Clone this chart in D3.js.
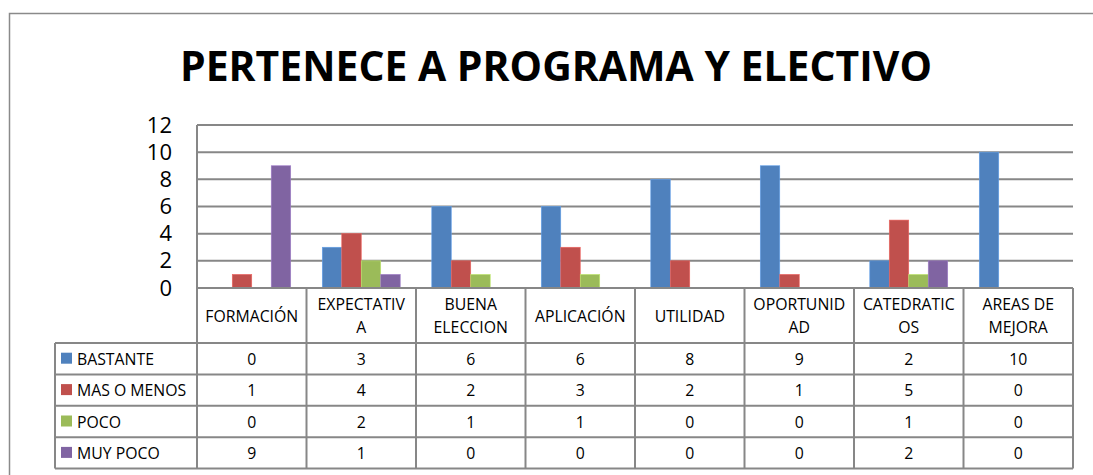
<!DOCTYPE html>
<html>
<head>
<meta charset="utf-8">
<script src="https://cdn.jsdelivr.net/npm/d3@7"></script>
<style>
  body { margin: 0; background: #fff; }
  text { font-family: "Open Sans", "Noto Sans", sans-serif; }
</style>
</head>
<body>
<div id="chart"></div>
<script>
var categories = ["FORMACIÓN", "EXPECTATIVA", "BUENA ELECCION", "APLICACIÓN", "UTILIDAD", "OPORTUNIDAD", "CATEDRATICOS", "AREAS DE MEJORA"];
// lines shown in the category header of the data table
var categoryLines = [["FORMACIÓN"], ["EXPECTATIV", "A"], ["BUENA", "ELECCION"], ["APLICACIÓN"], ["UTILIDAD"], ["OPORTUNID", "AD"], ["CATEDRATIC", "OS"], ["AREAS DE", "MEJORA"]];
var seriesNames = ["BASTANTE", "MAS O MENOS", "POCO", "MUY POCO"];
var bastante = [0, 3, 6, 6, 8, 9, 2, 10];
var masOMenos = [1, 4, 2, 3, 2, 1, 5, 0];
var poco = [0, 2, 1, 1, 0, 0, 1, 0];
var muyPoco = [9, 1, 0, 0, 0, 0, 2, 0];
var yTicks = [0, 2, 4, 6, 8, 10, 12];
var colors = ["#4F81BD", "#C0504D", "#9BBB59", "#8064A2"];

var values = [bastante, masOMenos, poco, muyPoco];

var W = 1093, H = 475;
var plot = {left: 197, right: 1073, top: 125, bottom: 288};
var gridColor = "#878787";
var tableFont = "15.8px";

var svg = d3.select("#chart").append("svg")
    .attr("width", W)
    .attr("height", H);

// outer chart border
svg.append("rect")
    .attr("x", 9.5).attr("y", 13.5)
    .attr("width", 1100).attr("height", 500)
    .attr("fill", "none")
    .attr("stroke", "#8a8a8a")
    .attr("stroke-width", 1.5);

// titulo
svg.append("text")
    .attr("x", 556)
    .attr("y", 81)
    .attr("text-anchor", "middle")
    .attr("font-size", "41px")
    .attr("font-weight", "bold")
    .attr("textLength", 752)
    .attr("lengthAdjust", "spacingAndGlyphs")
    .text("PERTENECE A PROGRAMA Y ELECTIVO");

var x0 = d3.scaleBand()
    .domain(categories)
    .range([plot.left, plot.right]);

var x1 = d3.scaleBand()
    .domain(seriesNames)
    .range([0, x0.bandwidth()])
    .paddingOuter(0.81)
    .paddingInner(0);

var y = d3.scaleLinear()
    .domain([0, 12])
    .range([plot.bottom, plot.top]);

// grid lines
svg.append("g")
  .selectAll("line")
  .data(yTicks)
  .enter()
  .append("line")
    .attr("x1", plot.left)
    .attr("x2", plot.right)
    .attr("y1", function(d) { return y(d); })
    .attr("y2", function(d) { return y(d); })
    .attr("stroke", gridColor)
    .attr("stroke-width", 2);

svg.append("line")
    .attr("x1", plot.left).attr("x2", plot.left)
    .attr("y1", plot.top).attr("y2", plot.bottom)
    .attr("stroke", gridColor).attr("stroke-width", 2);

// y axis labels
var yAxis = d3.axisLeft(y).tickValues(yTicks).tickSize(0).tickPadding(25);
var gy = svg.append("g")
    .attr("transform", "translate(" + plot.left + ",0)")
    .call(yAxis);
gy.select(".domain").remove();
gy.selectAll("text")
    .attr("font-size", "22px")
    .attr("fill", "#000")
    .attr("font-family", "'Open Sans', sans-serif");

// bars
var groups = svg.append("g")
  .selectAll("g")
  .data(categories)
  .enter()
  .append("g")
    .attr("transform", function(d) { return "translate(" + x0(d) + ",0)"; });

groups.selectAll("rect")
  .data(function(d, i) {
      return seriesNames.map(function(s, k) { return {s: s, k: k, v: values[k][i]}; });
  })
  .enter()
  .append("rect")
    .attr("x", function(d) { return x1(d.s); })
    .attr("y", function(d) { return y(d.v); })
    .attr("width", x1.bandwidth())
    .attr("height", function(d) { return y(0) - y(d.v); })
    .attr("fill", function(d) { return colors[d.k]; })
    .attr("stroke", function(d) { return d3.color(colors[d.k]).brighter(0.6); })
    .attr("stroke-width", 0.6);

// redraw the zero line on top
svg.append("line")
    .attr("x1", plot.left).attr("x2", plot.right)
    .attr("y1", y(0)).attr("y2", y(0))
    .attr("stroke", gridColor).attr("stroke-width", 2);

// tabla de datos
var table = {labelLeft: 55, headerBottom: 343, rowH: 31.4};
var tg = svg.append("g");

// header row (category names)
tg.selectAll("line.hv")
  .data(d3.range(categories.length + 1))
  .enter()
  .append("line")
    .attr("x1", function(i) { return plot.left + i * x0.step(); })
    .attr("x2", function(i) { return plot.left + i * x0.step(); })
    .attr("y1", plot.bottom)
    .attr("y2", table.headerBottom + table.rowH * seriesNames.length)
    .attr("stroke", gridColor).attr("stroke-width", 2);

tg.selectAll("line.hh")
  .data(d3.range(seriesNames.length + 1))
  .enter()
  .append("line")
    .attr("x1", table.labelLeft)
    .attr("x2", plot.right)
    .attr("y1", function(i) { return table.headerBottom + i * table.rowH; })
    .attr("y2", function(i) { return table.headerBottom + i * table.rowH; })
    .attr("stroke", gridColor).attr("stroke-width", 2);

tg.append("line")
    .attr("x1", table.labelLeft).attr("x2", table.labelLeft)
    .attr("y1", table.headerBottom)
    .attr("y2", table.headerBottom + table.rowH * seriesNames.length)
    .attr("stroke", gridColor).attr("stroke-width", 2);

// category labels
categoryLines.forEach(function(lines, i) {
  var cx = x0(categories[i]) + x0.bandwidth() / 2;
  var midY = (plot.bottom + table.headerBottom) / 2;
  var lh = 22.5;
  lines.forEach(function(l, j) {
    tg.append("text")
      .attr("x", cx)
      .attr("y", midY + (j - (lines.length - 1) / 2) * lh + 6)
      .attr("text-anchor", "middle")
      .attr("font-size", tableFont)
      .text(l);
  });
});

// rows
seriesNames.forEach(function(s, k) {
  var rowMid = table.headerBottom + (k + 0.5) * table.rowH;
  tg.append("rect")
    .attr("x", 61).attr("y", rowMid - 6)
    .attr("width", 11).attr("height", 11)
    .attr("fill", colors[k]);
  tg.append("text")
    .attr("x", 77)
    .attr("y", rowMid + 6)
    .attr("font-size", tableFont)
    .text(s);
  values[k].forEach(function(v, i) {
    tg.append("text")
      .attr("x", x0(categories[i]) + x0.bandwidth() / 2)
      .attr("y", rowMid + 6)
      .attr("text-anchor", "middle")
      .attr("font-size", tableFont)
      .text(v);
  });
});
</script>
</body>
</html>
